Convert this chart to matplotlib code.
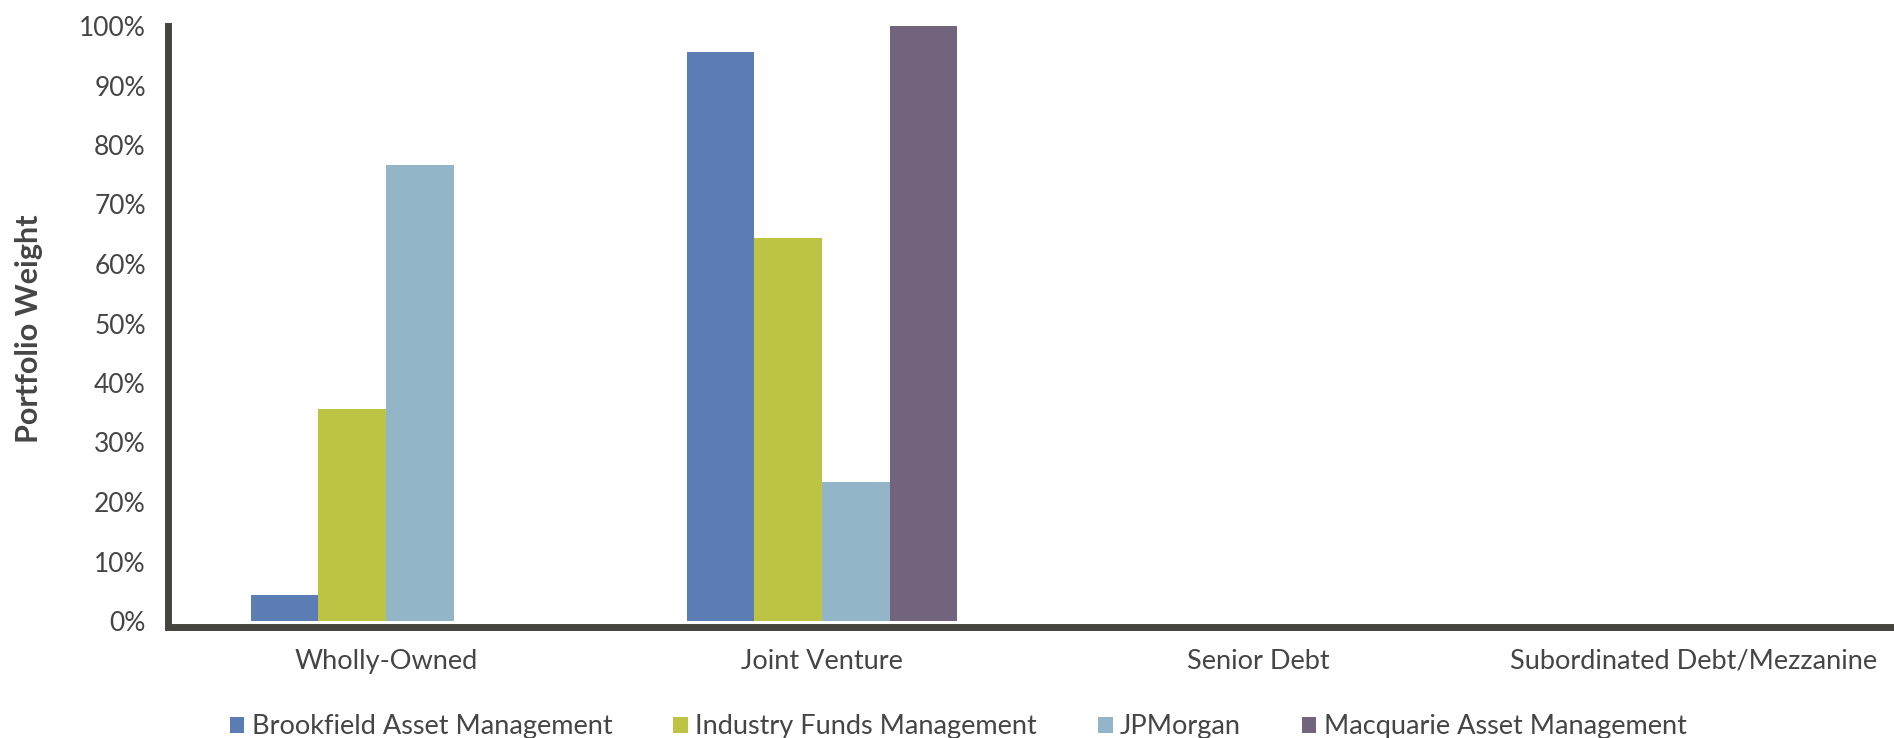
import numpy as np
import matplotlib.pyplot as plt

plt.rcParams['font.family'] = ['Lato', 'DejaVu Sans']

categories = ['Wholly-Owned', 'Joint Venture', 'Senior Debt', 'Subordinated Debt/Mezzanine']
managers = ['Brookfield Asset Management', 'Industry Funds Management', 'JPMorgan',
            'Macquarie Asset Management']
# portfolio weight (%) per manager, one value per category
brookfield = [4.4, 95.6, 0, 0]
industry_funds = [35.6, 64.4, 0, 0]
jpmorgan = [76.6, 23.4, 0, 0]
macquarie = [0, 100, 0, 0]
yticks = [0, 10, 20, 30, 40, 50, 60, 70, 80, 90, 100]

series = [brookfield, industry_funds, jpmorgan, macquarie]
colors = ['#5b7cb4', '#bdc443', '#93b5c8', '#72647c']
text_col = '#454545'
spine_col = '#45443f'

fig = plt.figure(figsize=(18.94, 7.38), dpi=100)
W, H = 1894, 738
ax = fig.add_axes([168 / W, (H - 621) / H, (1912 - 168) / W, (621 - 26) / H])

x = np.arange(len(categories))
w = 0.155
for i, (vals, c, name) in enumerate(zip(series, colors, managers)):
    ax.bar(x + (i - 1.5) * w, vals, width=w, color=c, label=name, linewidth=0)

ax.set_xlim(-0.5, 3.5)
ax.set_ylim(0, 100)
ax.set_yticks(yticks)
ax.set_yticklabels([f'{v}%' for v in yticks])
ax.set_xticks(x)
ax.set_xticklabels(categories)
ax.tick_params(axis='both', length=0, labelcolor=text_col)
ax.tick_params(axis='y', pad=16, labelsize=19)
ax.tick_params(axis='x', pad=16, labelsize=19.5)

for s in ['top', 'right']:
    ax.spines[s].set_visible(False)
for s in ['left', 'bottom']:
    ax.spines[s].set_linewidth(5)
    ax.spines[s].set_color(spine_col)
ax.spines['bottom'].set_position(('outward', 4))
ax.spines['left'].set_capstyle('projecting')

ax.set_ylabel('Portfolio Weight', fontsize=22, fontweight='bold', color=text_col, va='center')
ax.yaxis.set_label_coords(-(168 - 29) / (1912 - 168), (621 - 329) / 595)

fig.legend(loc='lower center', bbox_to_anchor=(958 / W, -0.035), ncol=4, frameon=False,
           fontsize=19.5, handlelength=0.55, handleheight=0.55, handletextpad=0.26,
           columnspacing=2.25, labelcolor=text_col)

fig.savefig('out.png', dpi=100)
